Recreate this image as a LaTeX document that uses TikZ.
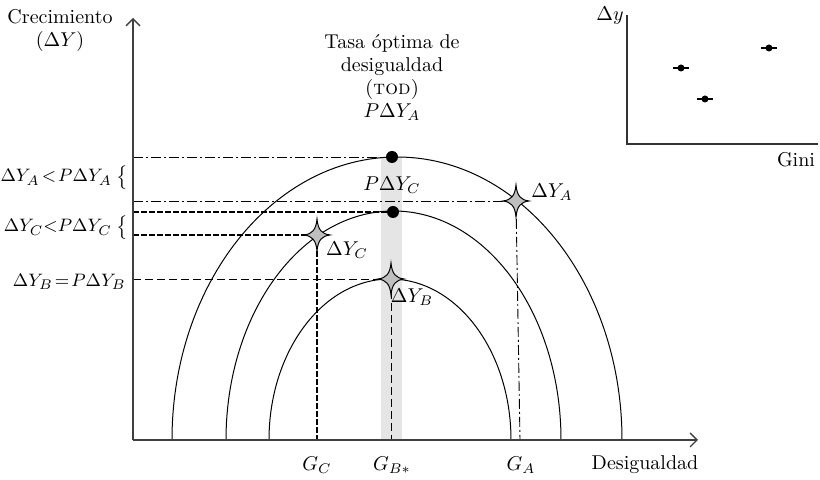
\documentclass[tikz,border=0pt]{standalone}
\usepackage{fontspec}
\usetikzlibrary{arrows.meta}
\begin{document}
\begin{tikzpicture}[x=0.5pt,y=0.5pt,font=\fontsize{10}{11.5}\selectfont,
 axisline/.style={draw=black!75,line width=0.7pt,-{Straight Barb[length=3.5pt,width=7pt]}},
 insetline/.style={draw=black!80,line width=0.6pt},
 curveline/.style={draw=black,line width=0.5pt},
 guideA/.style={line width=0.45pt,dash pattern=on 5pt off 1.5pt on 1pt off 1.5pt},
 guideB/.style={line width=0.45pt,dash pattern=on 4pt off 2pt},
 guideC/.style={line width=0.75pt,dash pattern=on 3pt off 1pt},
 optdot/.style={circle,fill=black,inner sep=0pt,minimum size=6pt},
 errdot/.style={circle,fill=black,inner sep=0pt,minimum size=3.5pt},
 sidelabel/.style={anchor=east,inner sep=0pt,font=\fontsize{9.3}{11}\selectfont},
 sparkle/.pic={\filldraw[fill=black!25,draw=black,line width=0.5pt]
   (0,16) .. controls (1,5) and (5,1) .. (13,0) .. controls (5,-1) and (1,-5) .. (0,-16)
   .. controls (-1,-5) and (-5,-1) .. (-13,0) .. controls (-5,1) and (-1,5) .. cycle;}
]
\useasboundingbox (0,0) rectangle (820,480);
\fill[black!10] (381,40) rectangle (402,323);
\coordinate (org) at (133,40);
\coordinate (ytop) at (133,462);
\coordinate (xend) at (698,40);
\draw[curveline] (172,40) arc[start angle=180,end angle=0,x radius=112.5pt,y radius=141.5pt];
\draw[curveline] (226,40) arc[start angle=180,end angle=0,x radius=83.75pt,y radius=114.5pt];
\draw[curveline] (269,40) arc[start angle=180,end angle=0,x radius=60.5pt,y radius=80.5pt];
\node[optdot] (pA) at (392,323) {};
\node[optdot] (pC) at (393,268) {};
\coordinate (sA) at (516,279);
\coordinate (sC) at (317,245);
\coordinate (sB) at (391,201);
\draw[guideA] (pA -| org) -- (pA);
\draw[guideA] (sA -| org) -- (sA);
\draw[guideA] (sA) -- (520,40);
\draw[guideC] (pC -| org) -- (pC);
\draw[guideC] (sC -| org) -- (sC);
\draw[guideC] (sC) -- (sC |- org);
\draw[guideB] (sB -| org) -- (sB);
\draw[guideB] (sB) -- (sB |- org);
\pic at (sA) {sparkle};
\pic at (sC) {sparkle};
\pic at (sB) {sparkle};
\draw[axisline] (org) -- (ytop);
\draw[axisline] (org) -- (xend);
\node[align=center] (ylabel) at (60,450) {Crecimiento\\$(\Delta Y)$};
\node[align=center] (tod) at (392,402) {Tasa óptima de\\desigualdad\\\textsc{(tod)}\\$P\Delta Y_A$};
\node (lpC) at (392,295) {$P\Delta Y_C$};
\node (lsA) at (552,288) {$\Delta Y_A$};
\node (lsC) at (347,230) {$\Delta Y_C$};
\node (lsB) at (412,183) {$\Delta Y_B$};
\node[sidelabel] (bA) at (129,303) {$\Delta Y_A\mkern2mu{<}\mkern2mu P\Delta Y_A\;\big\{$};
\node[sidelabel] (bC) at (129,253) {$\Delta Y_C{<}P\Delta Y_C\;\big\{$};
\node[sidelabel] (bB) at (126,198) {$\Delta Y_B\mkern2mu{=}\mkern2mu P\Delta Y_B$};
\node (gC) at (317,15) {$G_C$};
\node (gB) at (392,15) {$G_{B*}$};
\node (gA) at (521,15) {$G_A$};
\node (xlabel) at (645,15) {Desigualdad};
\coordinate (itop) at (627,465);
\coordinate (iorg) at (627,336);
\coordinate (iend) at (818,336);
\draw[insetline] (itop) -- (iorg) -- (iend);
\node (ilabely) at (610,464) {$\Delta y$};
\node (ilabelx) at (796,320) {Gini};
\node[errdot] (e1) at (681,412) {};
\node[errdot] (e2) at (705,381) {};
\node[errdot] (e3) at (769,432) {};
\foreach \e in {e1,e2,e3}
  \draw[line width=0.6pt] ([xshift=-4pt]\e.center) -- ([xshift=4pt]\e.center);
\end{tikzpicture}
\end{document}
